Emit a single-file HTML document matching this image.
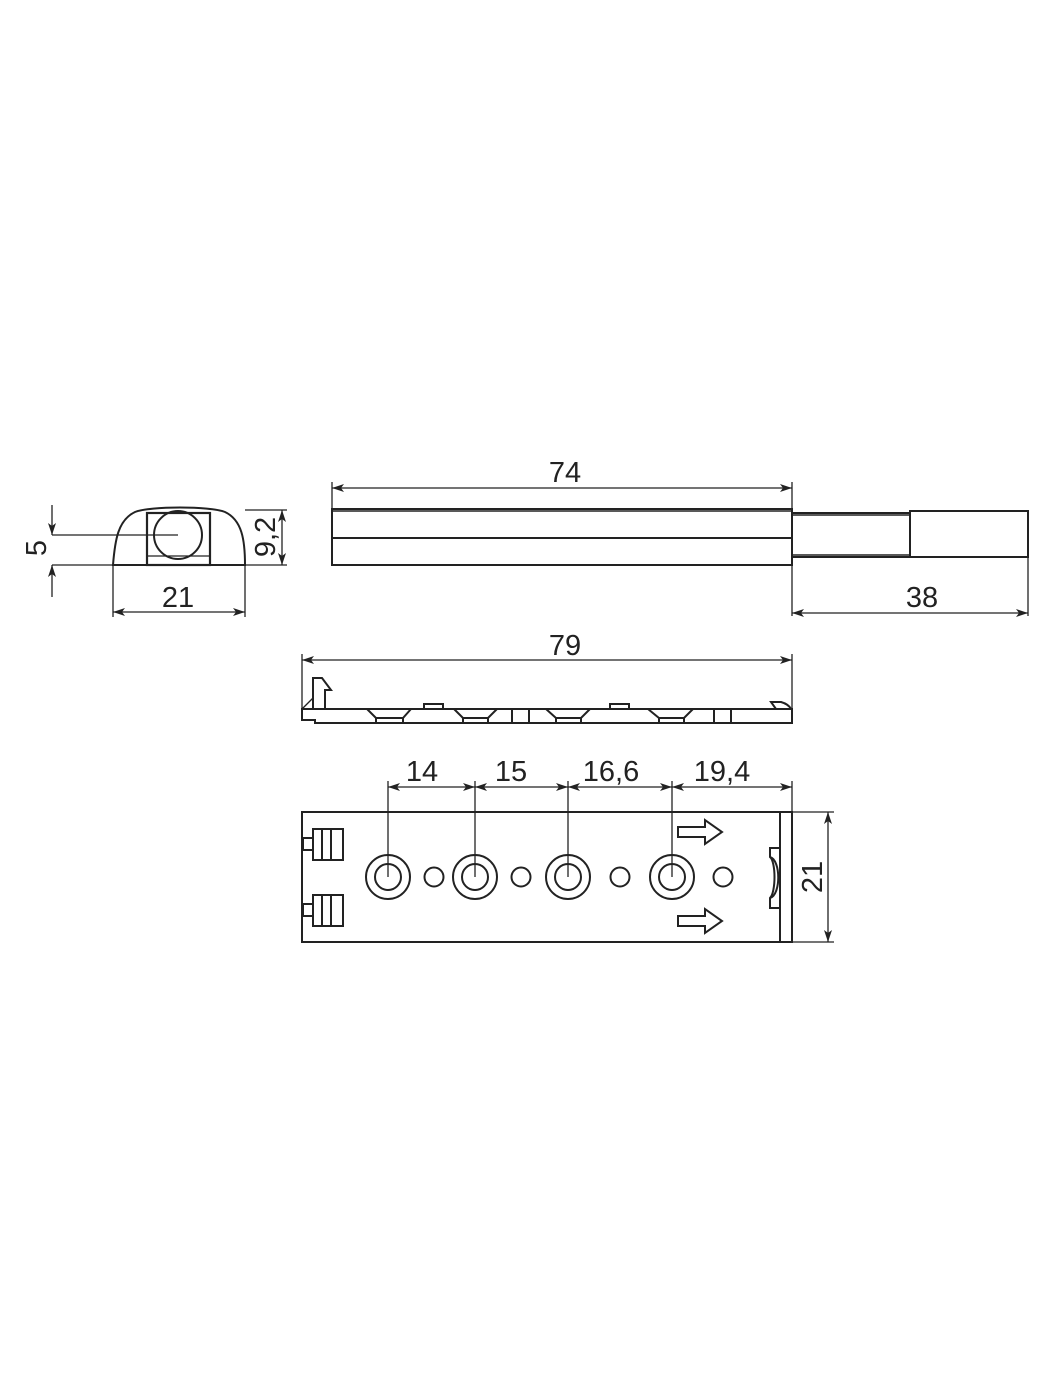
<!DOCTYPE html>
<html><head><meta charset="utf-8"><style>
html,body{margin:0;padding:0;background:#fff;}
svg{display:block;}
text{font-family:"Liberation Sans",sans-serif;font-size:29px;fill:#222;}
</style></head><body>
<svg width="1050" height="1400" viewBox="0 0 1050 1400" xmlns="http://www.w3.org/2000/svg">
<defs>
<marker id="a" viewBox="0 0 12 8" refX="12" refY="4" markerWidth="12" markerHeight="8" orient="auto-start-reverse" markerUnits="userSpaceOnUse">
<path d="M0,0 L12,4 L0,8 L3,4 Z" fill="#222"/></marker>
</defs>
<g fill="none" stroke="#222" stroke-width="1.3">
<path d="M113,565 C115,540 118,520 135,512 C150,506 210,506 225,512 C242,520 245,540 245,565 Z" stroke-width="2"/>
<rect x="147" y="513" width="63" height="52" stroke-width="2.2"/>
<line x1="147" y1="556" x2="210" y2="556"/>
<circle cx="178" cy="535" r="24" stroke-width="2"/>
<line x1="52" y1="535" x2="178" y2="535"/>
<line x1="52" y1="565" x2="113" y2="565"/>
<line x1="52" y1="505" x2="52" y2="535" marker-end="url(#a)"/>
<line x1="52" y1="597" x2="52" y2="565" marker-end="url(#a)"/>
<line x1="245" y1="510" x2="287" y2="510"/>
<line x1="282" y1="510" x2="282" y2="565" marker-start="url(#a)" marker-end="url(#a)"/>
<line x1="245" y1="565" x2="287" y2="565"/>
<line x1="113" y1="565" x2="113" y2="617"/>
<line x1="245" y1="565" x2="245" y2="617"/>
<line x1="113" y1="612" x2="245" y2="612" marker-start="url(#a)" marker-end="url(#a)"/>
<line x1="332" y1="482" x2="332" y2="509"/>
<line x1="792" y1="482" x2="792" y2="616"/>
<line x1="332" y1="488" x2="792" y2="488" marker-start="url(#a)" marker-end="url(#a)"/>
<rect x="332" y="509" width="460" height="56" stroke-width="2"/>
<line x1="332" y1="511" x2="792" y2="511" stroke-width="1.5"/>
<line x1="332" y1="538" x2="792" y2="538" stroke-width="2"/>
<rect x="792" y="513" width="118" height="44" stroke-width="2"/>
<line x1="792" y1="515" x2="910" y2="515" stroke-width="1.5"/>
<line x1="792" y1="555" x2="910" y2="555" stroke-width="1.5"/>
<rect x="910" y="511" width="118" height="46" stroke-width="2"/>
<line x1="1028" y1="557" x2="1028" y2="616"/>
<line x1="792" y1="613" x2="1028" y2="613" marker-start="url(#a)" marker-end="url(#a)"/>
<line x1="302" y1="654" x2="302" y2="709"/>
<line x1="792" y1="654" x2="792" y2="709"/>
<line x1="302" y1="660" x2="792" y2="660" marker-start="url(#a)" marker-end="url(#a)"/>
<path d="M302,709 L302,720 L315,720 L315,723 L792,723 L792,709 Z" stroke-width="2"/>
<path d="M313,709 L313,678 L322,678 L331,690 L325,690 L325,709" stroke-width="2"/>
<path d="M302,709 L313,698"/>
<path d="M367,709 L376,718 L403,718 L411,709 M376,718 L376,723 M403,718 L403,723" stroke-width="2"/>
<path d="M424,709 L424,704 L443,704 L443,709" stroke-width="2"/>
<path d="M454,709 L463,718 L488,718 L497,709 M463,718 L463,723 M488,718 L488,723" stroke-width="2"/>
<line x1="512" y1="709" x2="512" y2="723" stroke-width="2"/>
<line x1="529" y1="709" x2="529" y2="723" stroke-width="2"/>
<path d="M546,709 L556,718 L581,718 L590,709 M556,718 L556,723 M581,718 L581,723" stroke-width="2"/>
<path d="M610,709 L610,704 L629,704 L629,709" stroke-width="2"/>
<path d="M648,709 L659,718 L684,718 L693,709 M659,718 L659,723 M684,718 L684,723" stroke-width="2"/>
<line x1="714" y1="709" x2="714" y2="723" stroke-width="2"/>
<line x1="731" y1="709" x2="731" y2="723" stroke-width="2"/>
<path d="M771,702 L781,702 C788,704 790,707 791,709 L776,709 Z" stroke-width="2"/>
<line x1="388" y1="781" x2="388" y2="877"/>
<line x1="475" y1="781" x2="475" y2="877"/>
<line x1="568" y1="781" x2="568" y2="877"/>
<line x1="672" y1="781" x2="672" y2="877"/>
<line x1="792" y1="781" x2="792" y2="812"/>
<line x1="388" y1="787" x2="475" y2="787" marker-start="url(#a)" marker-end="url(#a)"/>
<line x1="475" y1="787" x2="568" y2="787" marker-start="url(#a)" marker-end="url(#a)"/>
<line x1="568" y1="787" x2="672" y2="787" marker-start="url(#a)" marker-end="url(#a)"/>
<line x1="672" y1="787" x2="792" y2="787" marker-start="url(#a)" marker-end="url(#a)"/>
<rect x="302" y="812" width="490" height="130" stroke-width="2"/>
<line x1="780" y1="812" x2="780" y2="942" stroke-width="2"/>
<g stroke-width="2">
<circle cx="388" cy="877" r="22"/><circle cx="388" cy="877" r="13"/>
<circle cx="475" cy="877" r="22"/><circle cx="475" cy="877" r="13"/>
<circle cx="568" cy="877" r="22"/><circle cx="568" cy="877" r="13"/>
<circle cx="672" cy="877" r="22"/><circle cx="672" cy="877" r="13"/>
<circle cx="434" cy="877" r="9.5"/><circle cx="521" cy="877" r="9.5"/>
<circle cx="620" cy="877" r="9.5"/><circle cx="723" cy="877" r="9.5"/>
<rect x="313" y="829" width="30" height="31"/><line x1="322" y1="829" x2="322" y2="860"/><line x1="331" y1="829" x2="331" y2="860"/>
<rect x="303" y="838" width="10" height="12"/>
<rect x="313" y="895" width="30" height="31"/><line x1="322" y1="895" x2="322" y2="926"/><line x1="331" y1="895" x2="331" y2="926"/>
<rect x="303" y="904" width="10" height="12"/>
<path d="M678,827 L705,827 L705,820 L722,832 L705,844 L705,837 L678,837 Z"/>
<path d="M678,916 L705,916 L705,909 L722,921 L705,933 L705,926 L678,926 Z"/>
<path d="M780,848 L770,848 L770,857 C776,862 776,892 770,898 L770,908 L780,908"/>
<path d="M770,857 C781,860 781,895 770,898"/>
</g>
<line x1="792" y1="812" x2="834" y2="812"/>
<line x1="792" y1="942" x2="834" y2="942"/>
<line x1="828" y1="812" x2="828" y2="942" marker-start="url(#a)" marker-end="url(#a)"/>
</g>
<text x="565" y="482" text-anchor="middle">74</text>
<text x="922" y="607" text-anchor="middle">38</text>
<text x="178" y="607" text-anchor="middle">21</text>
<text transform="translate(46,548) rotate(-90)" text-anchor="middle">5</text>
<text transform="translate(275,537) rotate(-90)" text-anchor="middle">9,2</text>
<text x="565" y="655" text-anchor="middle">79</text>
<text x="422" y="781" text-anchor="middle">14</text>
<text x="511" y="781" text-anchor="middle">15</text>
<text x="611" y="781" text-anchor="middle">16,6</text>
<text x="722" y="781" text-anchor="middle">19,4</text>
<text transform="translate(822,877) rotate(-90)" text-anchor="middle">21</text>
</svg>
</body></html>
